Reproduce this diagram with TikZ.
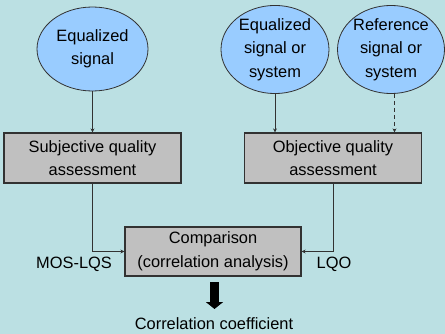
\documentclass[tikz,border=0pt]{standalone}
\usepackage{fontspec}
\setmainfont{Liberation Sans}
\usetikzlibrary{shapes.geometric,arrows.meta}
\definecolor{bgc}{RGB}{187,224,227}
\definecolor{ellc}{RGB}{153,204,255}
\definecolor{boxc}{RGB}{192,192,192}
\definecolor{linec}{RGB}{50,50,50}
\begin{document}
\begin{tikzpicture}[x=1pt,y=-1pt,
  txt/.style={font=\fontsize{16.4}{23.5}\selectfont, align=center, text=black},
  oval/.style={txt, ellipse, draw=linec, line width=0.8pt, fill=ellc, inner sep=0pt},
  procbox/.style={txt, rectangle, draw=linec, line width=1.2pt, fill=boxc, minimum width=177pt, minimum height=50pt, inner sep=0pt},
  arr/.style={draw=linec, line width=0.8pt, -{Stealth[length=4pt,width=4pt]}},
  bigarr/.style={draw=black, line width=9pt, -{Triangle[width=17pt,length=7pt]}}]
\fill[bgc] (0,0) rectangle (445,334);
\useasboundingbox (0,0) rectangle (445,334);
\node[oval, minimum width=111pt, minimum height=84pt] (e1) at (92.5,49) {Equalized\\signal};
\node[oval, minimum width=108pt, minimum height=84pt] (e2) at (275,49.5) {Equalized\\signal or\\system};
\node[oval, minimum width=104pt, minimum height=84pt] (e3) at (391,49.5) {Reference\\signal or\\system};
\node[procbox] (b1) at (92.5,158) {Subjective quality\\assessment};
\node[procbox] (b2) at (333,158) {Objective quality\\assessment};
\node[procbox, minimum width=176pt, minimum height=49pt] (cmp) at (213,251.5) {Comparison\\(correlation analysis)};
\node[txt] (mos) at (74,264) {MOS-LQS};
\node[txt] (lqo) at (334,264) {LQO};
\node[txt] (cc) at (214,324) {Correlation coefficient};
\draw[arr] (e1) -- (b1);
\draw[arr] (e2) -- (e2 |- b2.north);
\coordinate (e3s) at ([xshift=3.5pt]e3.south);
\draw[arr, dashed, dash pattern=on 4pt off 3pt] (e3s) -- (e3s |- b2.north);
\draw[arr] (b1.south) |- (cmp.west);
\draw[arr] (b2.south) |- (cmp.east);
\coordinate (ta) at (214.5,282);
\coordinate (tb) at (214.5,309);
\draw[bigarr] (ta) -- (tb);
\end{tikzpicture}
\end{document}
